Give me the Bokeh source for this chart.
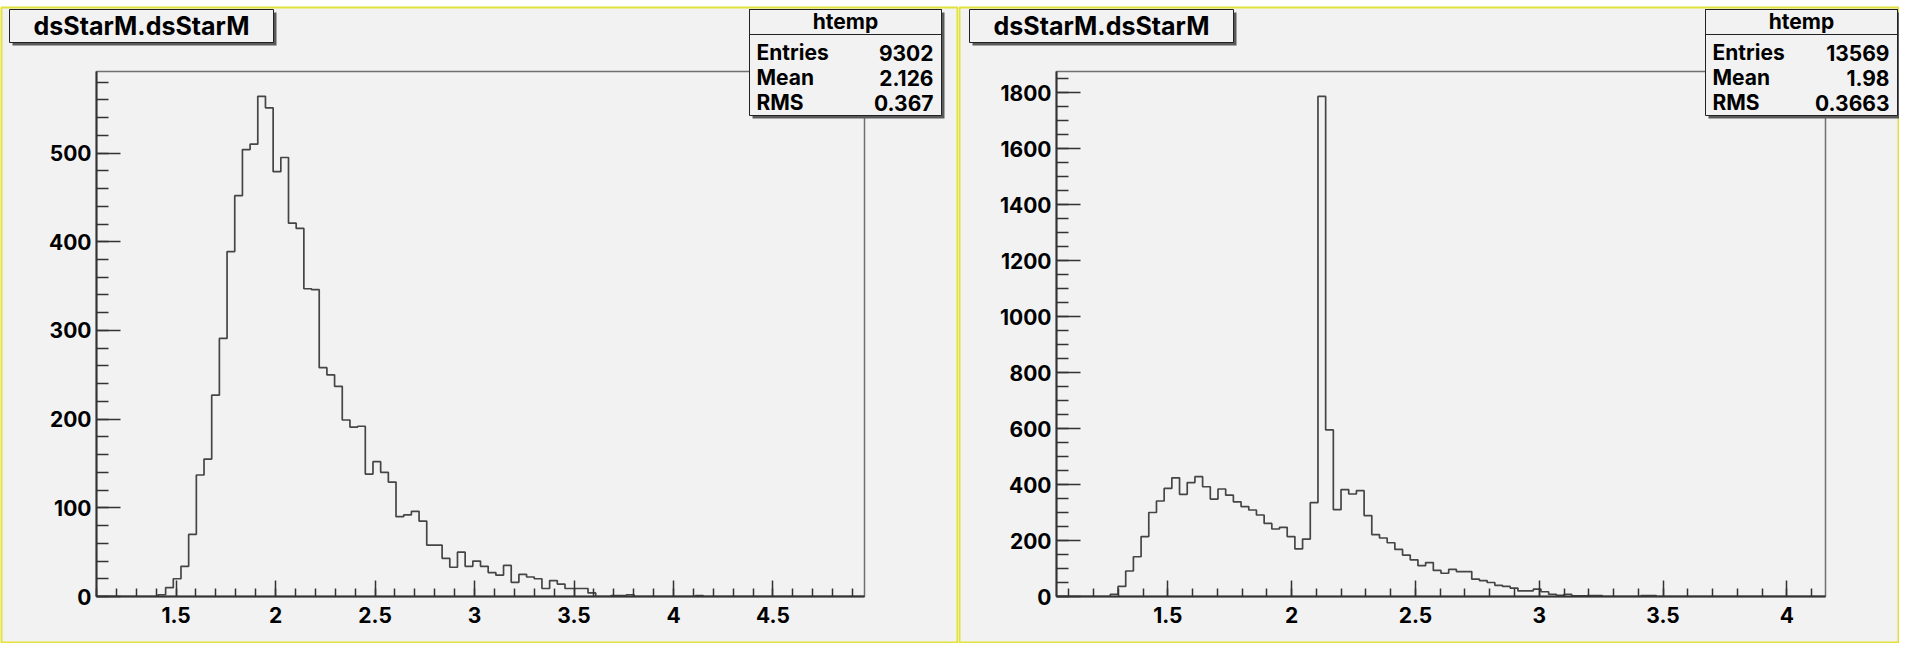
import numpy as np
from bokeh.plotting import figure
from bokeh.layouts import row
from bokeh.models import Range1d, FixedTicker
from bokeh.core.properties import value
from bokeh.embed import file_html
from bokeh.resources import INLINE

FONT = "Inter"
BG = "#f2f2f2"
LINE = "#454545"

# ---------------- data ----------------
title_text = "dsStarM.dsStarM"
stats_title = "htemp"
stat_names = ["Entries", "Mean", "RMS"]

# left histogram: 100 bins over [1.1, 4.96]
left_xmin, left_xmax = 1.1, 4.96
left_counts = [
    0, 0, 0, 0, 0, 0, 0, 0, 2, 10,
    20, 34, 70, 137, 155, 227, 291, 389, 452, 504,
    510, 564, 551, 479, 495, 421, 415, 347, 346, 258,
    250, 237, 199, 191, 192, 138, 152, 140, 129, 90,
    92, 96, 85, 58, 58, 43, 33, 50, 34, 40,
    34, 27, 24, 35, 16, 25, 22, 20, 9, 18,
    14, 9, 9, 9, 4, 0, 0, 1, 1, 2,
    0, 0, 0, 0, 0, 0, 0, 0, 1, 0,
    0, 0, 0, 0, 0, 0, 0, 0, 0, 0,
    0, 0, 0, 0, 0, 0, 0, 0, 0, 0,
]
left_stats = ["9302", "2.126", "0.367"]
left_ymax = 592
left_xticks = [1.5, 2, 2.5, 3, 3.5, 4, 4.5]
left_xlabels = ["1.5", "2", "2.5", "3", "3.5", "4", "4.5"]
left_yticks = [0, 100, 200, 300, 400, 500]
left_ylabels = ["0", "100", "200", "300", "400", "500"]

# right histogram: 100 bins over [1.0505, 4.156]
right_xmin, right_xmax = 1.0505, 4.156
right_counts = [
    0, 0, 0, 0, 0, 0, 0, 8, 36, 91,
    142, 214, 300, 341, 386, 424, 365, 407, 428, 392,
    348, 384, 362, 338, 321, 309, 291, 261, 241, 247,
    214, 170, 205, 335, 1786, 595, 310, 382, 366, 378,
    289, 221, 209, 192, 168, 148, 131, 110, 121, 93,
    83, 97, 89, 89, 62, 57, 50, 40, 36, 30,
    20, 20, 26, 17, 8, 4, 8, 2, 2, 3,
    3, 0, 0, 0, 0, 0, 3, 3, 0, 0,
    0, 0, 0, 0, 0, 0, 0, 0, 0, 0,
    0, 0, 0, 0, 0, 0, 0, 0, 0, 0,
]
right_stats = ["13569", "1.98", "0.3663"]
right_ymax = 1875
right_xticks = [1.5, 2, 2.5, 3, 3.5, 4]
right_xlabels = ["1.5", "2", "2.5", "3", "3.5", "4"]
right_yticks = [0, 200, 400, 600, 800, 1000, 1200, 1400, 1600, 1800]
right_ylabels = ["0", "200", "400", "600", "800", "1000", "1200", "1400", "1600", "1800"]

HEIGHT = 643
MB_TOP, MB_BOTTOM = 71, 47
FRAME_H = HEIGHT - MB_TOP - MB_BOTTOM


def make_panel(counts, xmin, xmax, ymax, xticks, xlabels, xminor_step,
               yticks, ylabels, yminor_step, stats, width, mb_left, mb_right, sx0):
    p = figure(width=width, height=HEIGHT, output_backend="svg", toolbar_location=None,
               x_range=Range1d(xmin, xmax), y_range=Range1d(0, ymax),
               min_border_left=mb_left, min_border_right=mb_right,
               min_border_top=MB_TOP, min_border_bottom=MB_BOTTOM)
    p.border_fill_color = BG
    p.background_fill_color = BG
    p.outline_line_color = "#707070"
    p.outline_line_width = 1.5
    p.xgrid.visible = False
    p.ygrid.visible = False

    fw = width - mb_left - mb_right

    # pixel offsets (relative to frame bottom-left, y upward) -> data units
    def X(px):
        return xmin + px * (xmax - xmin) / fw

    def Y(py):
        return py * ymax / FRAME_H

    edges = np.linspace(xmin, xmax, len(counts) + 1)
    xs = np.repeat(edges, 2)
    ys = np.concatenate([[0], np.repeat(np.asarray(counts, float), 2), [0]])
    p.line(xs, ys, line_color=LINE, line_width=1.7)

    xminor = [round(v, 3) for v in np.arange(np.ceil(xmin / xminor_step) * xminor_step,
                                               xmax, xminor_step)]
    yminor = [float(v) for v in np.arange(0, ymax, yminor_step)]
    p.xaxis.ticker = FixedTicker(ticks=xticks, minor_ticks=xminor)
    p.yaxis.ticker = FixedTicker(ticks=yticks, minor_ticks=yminor)
    p.xaxis.major_label_overrides = {float(t): s for t, s in zip(xticks, xlabels)}
    p.yaxis.major_label_overrides = {float(t): s for t, s in zip(yticks, ylabels)}

    for ax, tin, mtin in ((p.xaxis, 16, 8), (p.yaxis, 24, 12)):
        ax.axis_line_color = "#333333"
        ax.axis_line_width = 2
        ax.major_tick_line_color = "#333333"
        ax.minor_tick_line_color = "#333333"
        ax.major_tick_line_width = 1.5
        ax.minor_tick_line_width = 1.5
        ax.major_tick_in = tin
        ax.major_tick_out = 0
        ax.minor_tick_in = mtin
        ax.minor_tick_out = 0
        ax.major_label_text_font = FONT
        ax.major_label_text_font_style = "bold"
        ax.major_label_text_font_size = "21px"
        ax.major_label_text_color = "black"
    p.xaxis.major_label_standoff = 10
    p.yaxis.major_label_standoff = 5

    def box(l, r, t, b, **kw):
        p.quad(left=[X(l)], right=[X(r)], top=[Y(t)], bottom=[Y(b)], level="overlay", **kw)

    def txt(x, y, s, size, align):
        p.text(x=[X(x)], y=[Y(y)], text=[s], text_font=value(FONT),
               text_font_size=value(size), text_font_style="bold", text_color="black",
               text_align=align, text_baseline="middle", level="overlay")

    # white strip above the panel and yellow panel border
    box(-mb_left, fw + mb_right, FRAME_H + MB_TOP, FRAME_H + MB_TOP - 6,
        fill_color="white", line_alpha=0)
    box(-mb_left + 1, fw + mb_right - 1, FRAME_H + MB_TOP - 7, -MB_BOTTOM + 1,
        fill_alpha=0, line_color="#e2e23c", line_width=2)

    # title box with shadow
    box(-84, 180, 584, 551, fill_color="#5a5a5a", line_alpha=0)
    box(-87, 177, 587, 554, fill_color=BG, line_color="#222222", line_width=1)
    txt(45, 570.5, title_text, "25px", "center")

    # stats box with shadow
    box(sx0 + 3, sx0 + 195, 584, 478, fill_color="#5a5a5a", line_alpha=0)
    box(sx0, sx0 + 192, 587, 481, fill_color=BG, line_color="#222222", line_width=1)
    box(sx0, sx0 + 192, 587, 562, fill_alpha=0, line_color="#222222", line_width=1)
    txt(sx0 + 96, 575, stats_title, "21px", "center")
    for k, (name, val) in enumerate(zip(stat_names, stats)):
        yy = 544 - 25 * k
        txt(sx0 + 7, yy, name, "21px", "left")
        txt(sx0 + 184, yy, val, "21px", "right")
    return p


p1 = make_panel(left_counts, left_xmin, left_xmax, left_ymax, left_xticks, left_xlabels,
                0.1, left_yticks, left_ylabels, 20, left_stats, 958, 96, 94, 653)
p2 = make_panel(right_counts, right_xmin, right_xmax, right_ymax, right_xticks,
                right_xlabels, 0.1, right_yticks, right_ylabels, 50, right_stats,
                941, 98, 74, 649)

layout = row(p1, p2)
open("out.html", "w").write(file_html(layout, INLINE))
